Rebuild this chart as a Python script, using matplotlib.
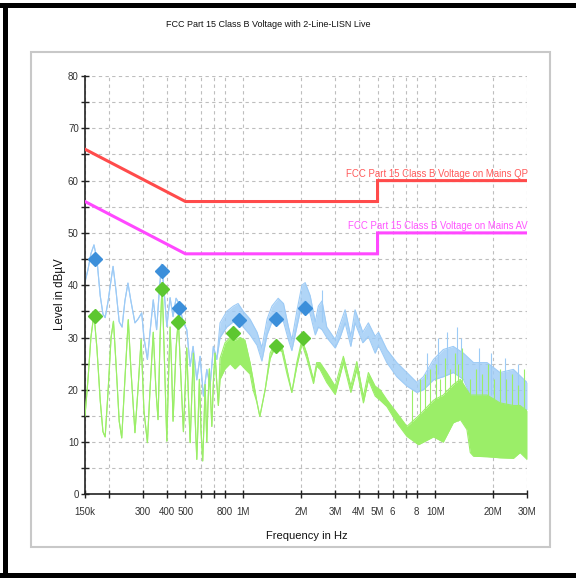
import numpy as np
import matplotlib
matplotlib.use("Agg")
import matplotlib.pyplot as plt
from matplotlib.patches import Rectangle

plt.rcParams['font.family'] = ['Liberation Sans', 'DejaVu Sans']

# ---- Measured spectrum, quasi-peak detector trace (frequency in MHz, level in dBuV) ----
blue_f = [0.150, 0.1555, 0.161, 0.167, 0.173, 0.180, 0.186, 0.191, 0.198, 0.205,
          0.210, 0.2175, 0.226, 0.234, 0.242, 0.251, 0.260, 0.273, 0.283, 0.296,
          0.304, 0.317, 0.327, 0.340, 0.354, 0.364, 0.375, 0.387, 0.400, 0.416,
          0.431, 0.447, 0.463, 0.486, 0.508, 0.529, 0.548, 0.573, 0.596, 0.620,
          0.646, 0.672, 0.699, 0.728, 0.757, 0.821, 0.888, 0.940, 1.00, 1.085,
          1.18, 1.25, 1.33, 1.41, 1.52, 1.62, 1.72, 1.79, 1.90, 2.02,
          2.10, 2.23, 2.37, 2.46, 2.57, 2.72, 3.01, 3.19, 3.39, 3.63,
          3.82, 4.19, 4.48, 4.86, 5.06, 5.59, 6.30, 7.11, 8.01, 8.67,
          9.78, 11.0, 12.4, 14.0, 15.8, 18.6, 21.7, 25.5, 30.0]
blue_hi = [40.6, 43.0, 46.0, 47.7, 45.0, 38.0, 34.5, 33.8, 37.0, 41.0,
           43.6, 39.0, 33.0, 32.0, 37.0, 40.4, 37.0, 32.8, 33.5, 34.7,
           30.0, 25.8, 31.0, 37.2, 31.5, 38.0, 44.0, 39.0, 32.1, 37.6,
           34.0, 37.5, 36.5, 33.0, 31.5, 24.5, 28.3, 21.9, 26.4, 18.8,
           23.9, 20.7, 28.3, 25.8, 32.8, 35.0, 36.0, 36.5, 35.0, 33.5,
           31.0, 28.0, 33.5, 36.0, 37.5, 36.5, 32.0, 29.5, 35.0, 40.0,
           40.5, 38.0, 33.0, 36.0, 37.0, 32.0, 29.6, 32.5, 35.3, 30.2,
           35.3, 31.0, 32.8, 30.2, 31.0, 27.7, 25.2, 23.3, 21.4, 22.5,
           25.8, 27.7, 28.3, 27.0, 25.2, 25.2, 23.3, 23.9, 21.4]
blue_lo = [40.6, 43.0, 46.0, 47.7, 45.0, 38.0, 34.5, 33.8, 37.0, 41.0,
           43.6, 39.0, 33.0, 32.0, 37.0, 40.4, 37.0, 32.8, 33.5, 34.7,
           30.0, 25.8, 31.0, 37.2, 31.5, 38.0, 44.0, 39.0, 32.1, 37.6,
           34.0, 37.5, 36.5, 33.0, 31.5, 24.5, 28.3, 21.9, 26.4, 18.8,
           23.9, 20.7, 28.3, 25.8, 30.0, 32.0, 33.0, 33.5, 32.0, 30.5,
           28.5, 25.5, 30.5, 33.0, 34.0, 33.0, 29.5, 27.5, 32.0, 36.5,
           37.0, 34.5, 30.5, 32.0, 31.5, 30.0, 28.0, 30.0, 32.8, 28.3,
           32.8, 29.0, 30.2, 27.0, 28.5, 25.2, 22.5, 20.7, 19.5, 20.0,
           21.9, 22.5, 23.3, 22.0, 17.5, 17.5, 16.8, 16.0, 16.2]
blue_spike_f = [2.57, 9.0, 10.3, 11.5, 12.9, 13.6, 16.8, 19.5, 23.0, 27.0]
blue_spike_base = [33.0, 22.0, 23.0, 24.0, 25.0, 24.0, 20.0, 19.0, 18.0, 18.0]
blue_spike_top = [39.0, 27.0, 30.0, 31.0, 32.0, 30.0, 28.0, 27.0, 26.0, 25.0]

# ---- Measured spectrum, average detector trace ----
green_f = [0.150, 0.1555, 0.161, 0.167, 0.173, 0.180, 0.186, 0.191, 0.198, 0.205,
           0.211, 0.2175, 0.226, 0.233, 0.242, 0.252, 0.260, 0.273, 0.283, 0.294,
           0.304, 0.317, 0.327, 0.340, 0.351, 0.360, 0.369, 0.378, 0.387, 0.400,
           0.408, 0.416, 0.423, 0.431, 0.447, 0.459, 0.474, 0.488, 0.498, 0.508,
           0.519, 0.529, 0.541, 0.550, 0.561, 0.573, 0.582, 0.591, 0.603, 0.615,
           0.625, 0.633, 0.646, 0.656, 0.666, 0.686, 0.700, 0.713, 0.726, 0.742,
           0.757, 0.804, 0.854, 0.906, 0.963, 1.02, 1.085, 1.125, 1.18, 1.22,
           1.30, 1.38, 1.46, 1.59, 1.69, 1.79, 1.90, 2.02, 2.14, 2.32,
           2.41, 2.51, 2.72, 3.01, 3.32, 3.63, 3.90, 4.22, 4.48, 4.86,
           5.16, 5.59, 6.30, 7.11, 8.17, 9.78, 11.0, 12.4, 13.5, 14.6,
           15.2, 15.8, 18.6, 21.7, 25.5, 27.6, 30.0]
green_hi = [15.0, 22.0, 30.0, 34.5, 28.0, 18.0, 12.0, 11.0, 20.0, 30.0,
            33.1, 25.0, 14.0, 10.8, 22.0, 33.4, 24.0, 11.8, 20.0, 29.6,
            16.0, 9.9, 20.0, 31.0, 20.0, 14.3, 30.0, 40.5, 28.0, 10.2,
            22.0, 32.0, 25.0, 14.0, 28.0, 33.5, 22.0, 12.0, 20.0, 28.0,
            18.0, 9.9, 20.0, 27.0, 15.0, 6.7, 14.0, 22.0, 12.0, 6.4,
            14.0, 21.0, 10.0, 18.0, 24.0, 13.0, 22.0, 27.0, 22.0, 17.0,
            26.0, 29.0, 30.0, 29.5, 30.0, 29.5, 25.2, 22.0, 17.5, 14.9,
            20.0, 27.0, 29.0, 28.3, 23.9, 19.5, 25.2, 29.6, 27.0, 21.9,
            25.2, 25.2, 23.3, 20.7, 26.4, 20.7, 25.4, 18.7, 23.3, 20.7,
            20.0, 18.1, 15.6, 13.0, 15.0, 18.0, 19.0, 21.0, 22.0, 20.0,
            19.0, 19.0, 19.0, 17.5, 17.0, 17.0, 16.0]
green_lo = [15.0, 22.0, 30.0, 34.5, 28.0, 18.0, 12.0, 11.0, 20.0, 30.0,
            33.1, 25.0, 14.0, 10.8, 22.0, 33.4, 24.0, 11.8, 20.0, 29.6,
            16.0, 9.9, 20.0, 31.0, 20.0, 14.3, 30.0, 40.5, 28.0, 10.2,
            22.0, 32.0, 25.0, 14.0, 28.0, 33.5, 22.0, 12.0, 20.0, 28.0,
            18.0, 9.9, 20.0, 27.0, 15.0, 6.7, 14.0, 22.0, 12.0, 6.4,
            14.0, 21.0, 10.0, 18.0, 24.0, 13.0, 22.0, 27.0, 22.0, 17.0,
            22.0, 24.0, 25.0, 24.0, 25.0, 24.0, 23.0, 20.0, 17.5, 14.9,
            20.0, 26.0, 28.0, 27.3, 23.0, 19.5, 24.5, 28.8, 26.0, 21.2,
            24.5, 23.9, 21.4, 19.1, 25.2, 19.5, 23.9, 17.5, 21.9, 18.8,
            18.0, 16.8, 13.7, 11.1, 9.5, 11.0, 10.0, 13.7, 14.3, 12.4,
            8.0, 7.3, 7.2, 7.0, 6.9, 8.0, 6.7]
green_spike_f = [7.57, 8.34, 8.85, 9.40, 10.1, 10.6, 11.25, 11.9, 12.7, 13.1,
                 13.8, 15.2, 16.3, 17.5, 18.8, 20.2, 21.7, 23.4, 25.1, 27.0, 29.0]
green_spike_base = [12.0, 11.0, 11.0, 11.0, 11.0, 11.0, 12.0, 13.0, 14.0, 14.0,
                    14.0, 9.0, 8.0, 8.0, 8.0, 8.0, 8.0, 8.0, 8.0, 8.0, 8.0]
green_spike_top = [20.0, 22.0, 23.0, 24.0, 25.0, 22.0, 26.0, 24.0, 27.0, 25.0,
                   28.0, 22.0, 24.0, 23.0, 25.0, 22.0, 24.0, 22.0, 23.0, 21.0, 24.0]

# ---- Final measurement points ----
qp_f = [0.169, 0.376, 0.465, 0.954, 1.48, 2.10]
qp_lvl = [45.0, 42.8, 35.7, 33.4, 33.6, 35.7]
av_f = [0.169, 0.376, 0.459, 0.882, 1.48, 2.04]
av_lvl = [34.2, 39.3, 32.9, 30.9, 28.3, 29.9]

# ---- FCC Part 15 Class B conducted limits ----
lim_f = [0.15, 0.5, 5.0, 5.0, 30.0]
lim_qp = [66, 56, 56, 60, 60]
lim_av = [56, 46, 46, 50, 50]

xtick_vals = [0.15, 0.2, 0.3, 0.4, 0.5, 0.6, 0.7, 0.8, 1, 2, 3, 4, 5, 6, 7, 8, 10, 20, 30]
xtick_text = ['150k', '', '300', '400', '500', '', '', '800', '1M', '2M', '3M', '4M',
              '5M', '6', '', '8', '10M', '20M', '30M']

W, H = 576, 579
fig = plt.figure(figsize=(W / 100, H / 100), dpi=100)
fig.patch.set_facecolor('white')

ax = fig.add_axes([85 / W, 1 - 494.4 / H, 442 / W, 418.4 / H])
ax.set_xscale('log')
ax.set_xlim(0.15, 30)
ax.set_ylim(0, 80)

blue_c = '#9DCBF6'
green_c = '#9BEE68'

ax.fill_between(blue_f, blue_lo, blue_hi, color=blue_c, alpha=0.8, lw=0, zorder=2)
ax.plot(blue_f, blue_hi, color=blue_c, lw=0.8, zorder=2)
ax.plot(blue_f, blue_lo, color=blue_c, lw=0.8, zorder=2)
ax.vlines(blue_spike_f, blue_spike_base, blue_spike_top, color=blue_c, lw=0.8, zorder=2)

ax.fill_between(green_f, green_lo, green_hi, color=green_c, lw=0, zorder=3)
ax.plot(green_f, green_hi, color=green_c, lw=0.8, zorder=3)
ax.plot(green_f, green_lo, color=green_c, lw=0.8, zorder=3)
ax.vlines(green_spike_f, green_spike_base, green_spike_top, color=green_c, lw=0.8, zorder=3)

ax.plot(lim_f, lim_qp, color='#FF4B4B', lw=2.2, zorder=4, solid_joinstyle='miter')
ax.plot(lim_f, lim_av, color='#FF48FF', lw=2.2, zorder=4, solid_joinstyle='miter')
ax.text(30.3, 60.4, 'FCC Part 15 Class B Voltage on Mains QP', ha='right', va='bottom',
        color='#FF5A5A', fontsize=6.9, zorder=5)
ax.text(30.3, 50.4, 'FCC Part 15 Class B Voltage on Mains AV', ha='right', va='bottom',
        color='#FF55FF', fontsize=6.9, zorder=5)

ax.plot(qp_f, qp_lvl, linestyle='none', marker='D', ms=7, color='#3C8FDA', zorder=6)
ax.plot(av_f, av_lvl, linestyle='none', marker='D', ms=7, color='#5DC730', zorder=6)

ax.set_xticks(xtick_vals)
ax.set_xticklabels(xtick_text)
ax.xaxis.set_minor_locator(matplotlib.ticker.NullLocator())
ax.set_yticks(range(0, 81, 5))
ax.set_yticklabels([str(v) if v % 10 == 0 else '' for v in range(0, 81, 5)])
ax.tick_params(direction='inout', length=6, width=1.0, color='#222222',
               labelcolor='#333333', labelsize=7.0)
ax.tick_params(axis='x', pad=6)
ax.tick_params(axis='y', pad=1.5)
ax.grid(True, color='#BEBEBE', linestyle=(0, (3, 3)), lw=0.8)
ax.set_axisbelow(True)
for side in ('top', 'right'):
    ax.spines[side].set_visible(False)
for side in ('left', 'bottom'):
    ax.spines[side].set_color('#222222')
    ax.spines[side].set_linewidth(1.2)

# Chart panel frame and outer window border
fig.add_artist(Rectangle((31 / W, 1 - 547 / H), 519 / W, 495 / H, transform=fig.transFigure,
                         fill=False, ec='#C8C8C8', lw=1.5))
fig.add_artist(Rectangle((0, 1 - 8 / H), 1, 5 / H, transform=fig.transFigure,
                         color='black', lw=0))
fig.add_artist(Rectangle((3 / W, 1 - 578 / H), 5 / W, 575 / H, transform=fig.transFigure,
                         color='black', lw=0))
fig.add_artist(Rectangle((0, 1 - 578 / H), 1, 5 / H, transform=fig.transFigure,
                         color='black', lw=0))

fig.text(268 / W, 1 - 24.5 / H, 'FCC Part 15 Class B Voltage with 2-Line-LISN Live',
         ha='center', va='center', fontsize=6.5, color='#111111')
fig.text(307 / W, 1 - 536 / H, 'Frequency in Hz', ha='center', va='center',
         fontsize=8.0, color='#111111')
fig.text(60 / W, 1 - 294 / H, 'Level in dB\u00b5V', rotation=90, ha='center', va='center',
         fontsize=8.3, color='#111111')

fig.savefig('out.png', dpi=100)
